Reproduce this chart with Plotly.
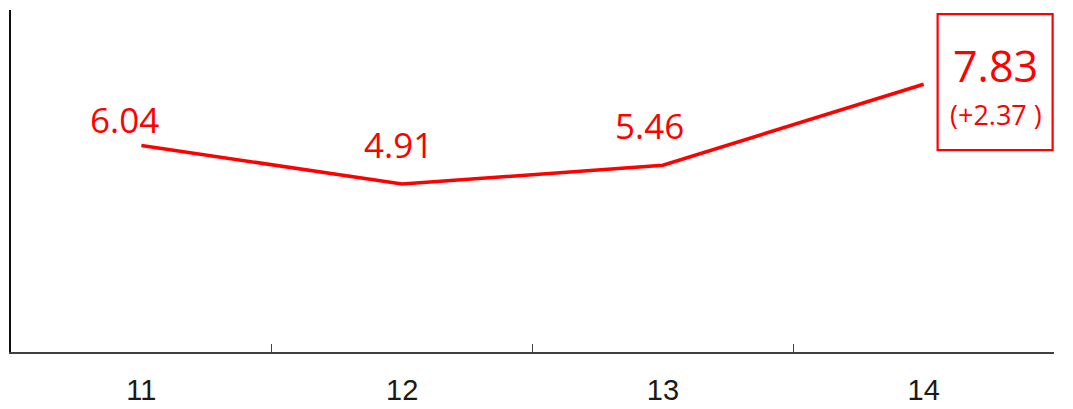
import plotly.graph_objects as go

# Yearly values
categories = ["11", "12", "13", "14"]
values = [6.04, 4.91, 5.46, 7.83]
change_label = "(+2.37 )"

RED = "#FF0000"
AXIS = "#404040"

fig = go.Figure()

fig.add_trace(go.Scatter(
    x=categories,
    y=values,
    mode="lines",
    line=dict(color=RED, width=3.5),
    hoverinfo="skip",
    showlegend=False,
))

# Value labels for the first three points (offsets in pixels);
# annotations on a category axis are placed by category index
label_offsets = [(-17, 26), (-4, 40), (-13, 40)]
for i, (val, (dx, dy)) in enumerate(zip(values[:-1], label_offsets)):
    fig.add_annotation(
        x=i, y=val, text=f"{val:.2f}",
        showarrow=False, xshift=dx, yshift=dy,
        font=dict(family="Open Sans", size=35, color=RED),
    )

# Highlighted last value in a framed box
last_idx, last_val = len(values) - 1, values[-1]
fig.add_shape(
    type="rect", xref="x", yref="y",
    xsizemode="pixel", ysizemode="pixel",
    xanchor=last_idx, yanchor=last_val,
    x0=14, x1=129, y0=-66, y1=70,
    line=dict(color=RED, width=2.2),
)
fig.add_annotation(
    x=last_idx, y=last_val, text=f"{last_val:.2f}",
    showarrow=False, xshift=72, yshift=19,
    font=dict(family="Open Sans", size=43, color=RED),
)
fig.add_annotation(
    x=last_idx, y=last_val, text=change_label,
    showarrow=False, xshift=72, yshift=-30,
    font=dict(family="Open Sans", size=27, color=RED),
)

fig.update_xaxes(
    type="category",
    range=[-0.5, 3.5],
    automargin=False,
    showline=True, linecolor=AXIS, linewidth=1.5,
    ticks="inside", tickson="boundaries", ticklen=8, tickwidth=1.2, tickcolor=AXIS,
    showgrid=False, zeroline=False,
    tickfont=dict(family="Liberation Sans", size=29, color="#1a1a1a"),
    ticklabelstandoff=11,
)
fig.update_yaxes(
    range=[0, 10],
    automargin=False,
    showline=True, linecolor="#111111", linewidth=1.5,
    showticklabels=False, ticks="",
    showgrid=False, zeroline=False,
)

fig.update_layout(
    width=1073, height=409,
    margin=dict(l=11, r=19, t=10, b=57),
    plot_bgcolor="white", paper_bgcolor="white",
)

fig.write_html("out.html")
